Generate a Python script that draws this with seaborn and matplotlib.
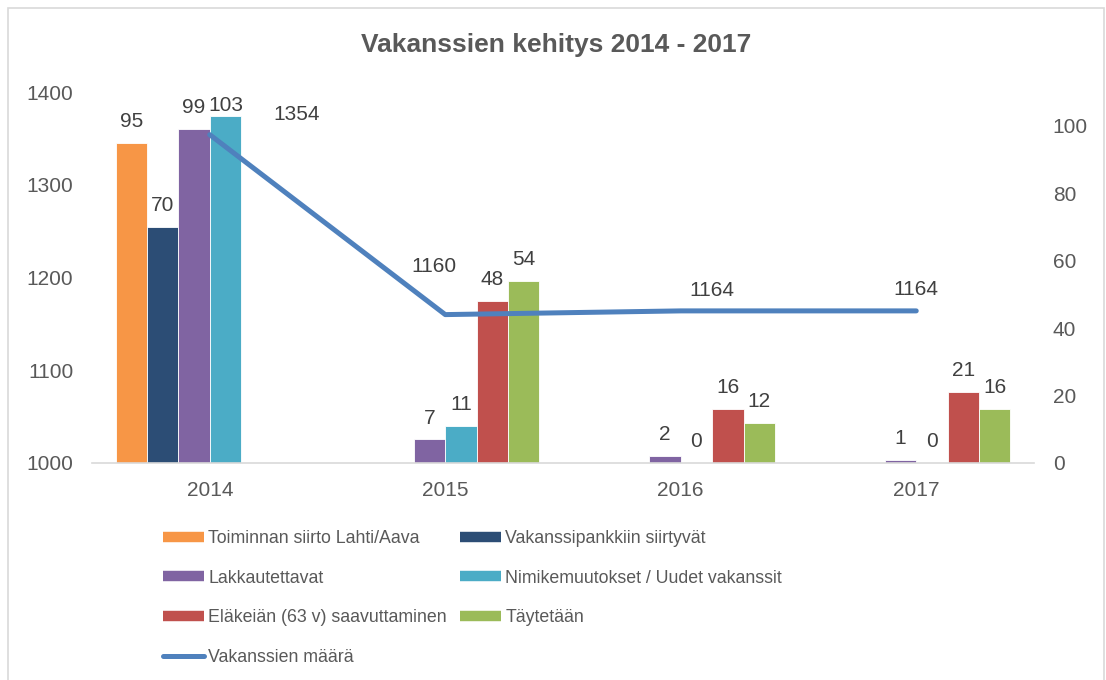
import pandas as pd
import numpy as np
import seaborn as sns
import matplotlib.pyplot as plt
from matplotlib.lines import Line2D
from matplotlib.patches import Rectangle

# 데이터
vuodet = ['2014', '2015', '2016', '2017']
sarjat = ['Toiminnan siirto Lahti/Aava', 'Vakanssipankkiin siirtyvät', 'Lakkautettavat',
          'Nimikemuutokset / Uudet vakanssit', 'Eläkeiän (63 v) saavuttaminen', 'Täytetään']
siirto = [95, np.nan, np.nan, np.nan]
vakanssipankki = [70, np.nan, np.nan, np.nan]
lakkautettavat = [99, 7, 2, 1]
nimikemuutokset = [103, 11, 0, 0]
elakeika = [np.nan, 48, 16, 21]
taytetaan = [np.nan, 54, 12, 16]
vakanssien_maara = [1354, 1160, 1164, 1164]
linja_nimi = 'Vakanssien määrä'

varit = ['#F79646', '#2C4D75', '#8064A2', '#4BACC6', '#C0504D', '#9BBB59']
linja_vari = '#4F81BD'

sns.set_theme(style='white')
plt.rcParams['font.family'] = ['Liberation Sans', 'DejaVu Sans']

arvot = [siirto, vakanssipankki, lakkautettavat, nimikemuutokset, elakeika, taytetaan]
rows = []
for s, vals in zip(sarjat, arvot):
    for v, a in zip(vuodet, vals):
        rows.append({'vuosi': v, 'sarja': s, 'arvo': a})
df = pd.DataFrame(rows).dropna()

fig = plt.figure(figsize=(11.06, 6.8), dpi=100)
ax = fig.add_axes([92 / 1106, 1 - 463 / 680, 942 / 1106, 371 / 680])

sns.barplot(data=df, x='vuosi', y='arvo', hue='sarja', order=vuodet, hue_order=sarjat,
            palette=varit, saturation=1, width=0.8, gap=0, ax=ax, legend=False,
            edgecolor='white', linewidth=0.6, errorbar=None)

for cont in ax.containers:
    labels = ax.bar_label(cont, fmt='%d', padding=8.5, fontsize=15, color='#404040')
    for lab in labels:
        # ylin arvo osuu kuvaajan yläreunaan -> teksti lähemmäs palkkia
        if lab.get_text() == '103':
            lab.xyann = (0, 0.5)

ax2 = ax.twinx()
x_pos = np.arange(len(vuodet))
sns.lineplot(x=x_pos, y=vakanssien_maara, ax=ax2, color=linja_vari, linewidth=3.6,
             solid_capstyle='round')

offsets = [(87, 20), (-11, 48), (31, 20), (0, 21)]
for xi, yi, off in zip(x_pos, vakanssien_maara, offsets):
    ax2.annotate(f'{yi}', (xi, yi), xytext=off, textcoords='offset pixels',
                 ha='center', va='center', fontsize=15, color='#404040')

# akselit
ax.set_ylim(0, 110)
ax.set_yticks(range(0, 101, 20))
ax2.set_ylim(1000, 1400)
ax2.set_yticks(range(1000, 1401, 100))
ax.yaxis.tick_right()
ax2.yaxis.tick_left()
ax.set_xlim(-0.5, 3.5)
ax.set_xticks([-0.5, 0.5, 1.5, 2.5, 3.5], minor=True)
ax.set_xlabel('')
ax.set_ylabel('')
ax2.set_ylabel('')

ax.tick_params(axis='y', length=0, pad=13.5, labelsize=15, labelcolor='#595959')
ax2.tick_params(axis='y', length=0, pad=13.5, labelsize=15, labelcolor='#595959')
ax.tick_params(axis='x', which='major', length=0, pad=13, labelsize=15, labelcolor='#595959')
ax.tick_params(axis='x', which='minor', length=4, width=1.2, color='#D9D9D9', direction='out')

for a in (ax, ax2):
    for side in ['top', 'left', 'right', 'bottom']:
        a.spines[side].set_visible(False)
ax.spines['bottom'].set_visible(True)
ax.spines['bottom'].set_color('#D9D9D9')
ax.spines['bottom'].set_linewidth(1.2)

fig.text(0.503, 1 - 45 / 680, 'Vakanssien kehitys 2014 - 2017', ha='center', va='center',
         fontsize=19, fontweight='bold', color='#595959')

# selite kahdessa sarakkeessa
def bar_handle(c):
    return Line2D([], [], color=c, lw=7.5, solid_capstyle='butt')

vasen = [bar_handle(varit[0]), bar_handle(varit[2]), bar_handle(varit[4]),
         Line2D([], [], color=linja_vari, lw=3.6, solid_capstyle='round')]
vasen_txt = [sarjat[0], sarjat[2], sarjat[4], linja_nimi]
oikea = [bar_handle(varit[1]), bar_handle(varit[3]), bar_handle(varit[5])]
oikea_txt = [sarjat[1], sarjat[3], sarjat[5]]

for h, t, x0 in [(vasen, vasen_txt, 163), (oikea, oikea_txt, 460)]:
    leg = fig.legend(h, t, loc='upper left', bbox_to_anchor=(x0 / 1106, 1 - 530 / 680),
                     bbox_transform=fig.transFigure, frameon=False, fontsize=12.8,
                     handlelength=2.3, handletextpad=0.25, labelspacing=1.27,
                     borderpad=0, borderaxespad=0)
    for txt in leg.get_texts():
        txt.set_color('#595959')

fig.add_artist(Rectangle((8 / 1106, -0.02), 1096 / 1106, 1 - 8 / 680 + 0.02,
                         transform=fig.transFigure, fill=False, edgecolor='#D9D9D9', lw=1.2))

plt.savefig('out.png', dpi=100)
